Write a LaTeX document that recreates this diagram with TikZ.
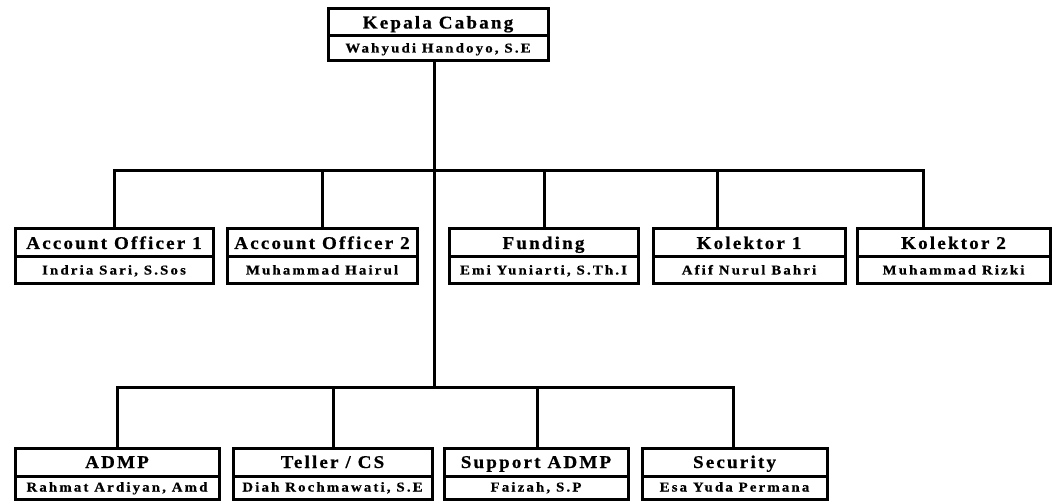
\documentclass[tikz,border=0pt]{standalone}
\usepackage{fontspec}
\newfontfamily\ttlfont[FakeStretch=1.06, LetterSpace=12, FakeBold=0.6]{Liberation Serif Bold}
\newfontfamily\nmfont[FakeStretch=1.1, LetterSpace=16, FakeBold=0.6]{Liberation Serif Bold}
\tikzset{
  boxpart/.style={draw=black, line width=3pt, fill=white, inner sep=0pt, anchor=center, text depth=0pt},
  ttltext/.style={font=\ttlfont\fontsize{18}{18}\selectfont, text height=12pt},
  nmtext/.style={font=\nmfont\fontsize{13.5}{13.5}\selectfont, text height=8pt},
  conn/.style={draw=black, line width=3pt, line join=miter}
}
% \orgbox{id}{cx}{top}{split}{bottom}{width}{title}{person}
\newcommand\orgbox[8]{%
  \node[boxpart, ttltext, minimum width=#6pt, minimum height={(#4-#3)*1pt}] (#1t) at (#2,{(#3+#4)/2}) {#7};
  \node[boxpart, nmtext, minimum width=#6pt, minimum height={(#5-#4)*1pt}] (#1n) at (#2,{(#4+#5)/2}) {#8};
}
\begin{document}
\begin{tikzpicture}[x=1pt, y=-1pt]
\useasboundingbox (0,0) rectangle (1056,502);
\fill[white] (0,0) rectangle (1056,502);
% bus coordinates
\coordinate (bus1) at (434,171);
\coordinate (bus2) at (434,387);
% connector end points
\coordinate (kctop) at (434,61);
\coordinate (ao1c) at (114,229);
\coordinate (ao2c) at (322,229);
\coordinate (func) at (544,229);
\coordinate (k1c) at (717,229);
\coordinate (k2c) at (923,229);
\coordinate (admc) at (117,448);
\coordinate (telc) at (333,448);
\coordinate (supc) at (537,448);
\coordinate (secc) at (733,448);
\draw[conn] (kctop) -- (bus2);
\draw[conn] (ao1c) |- (bus1) -| (k2c);
\draw[conn] (ao2c) -- (ao2c |- bus1);
\draw[conn] (func) -- (func |- bus1);
\draw[conn] (k1c) -- (k1c |- bus1);
\draw[conn] (admc) |- (bus2) -| (secc);
\draw[conn] (telc) -- (telc |- bus2);
\draw[conn] (supc) -- (supc |- bus2);
% boxes
\orgbox{kc}{438}{9}{36}{61}{220}{Kepala Cabang}{Wahyudi Handoyo, S.E}
\orgbox{aoa}{114}{229}{257}{284}{198}{Account Officer 1}{Indria Sari, S.Sos}
\orgbox{aob}{322}{229}{257}{284}{190}{Account Officer 2}{Muhammad Hairul}
\orgbox{fun}{543.5}{229}{257}{284}{189}{Funding}{Emi Yuniarti, S.Th.I}
\orgbox{koa}{749}{229}{257}{284}{192}{Kolektor 1}{Afif Nurul Bahri}
\orgbox{kob}{953.5}{229}{257}{284}{193}{Kolektor 2}{Muhammad Rizki}
\orgbox{adm}{117}{448}{476}{499}{204}{ADMP}{Rahmat Ardiyan, Amd}
\orgbox{tel}{332.5}{448}{476}{499}{199}{Teller / CS}{Diah Rochmawati, S.E}
\orgbox{sup}{536}{448}{476}{499}{184}{Support ADMP}{Faizah, S.P}
\orgbox{sec}{734.5}{448}{476}{499}{185}{Security}{Esa Yuda Permana}
\end{tikzpicture}
\end{document}
